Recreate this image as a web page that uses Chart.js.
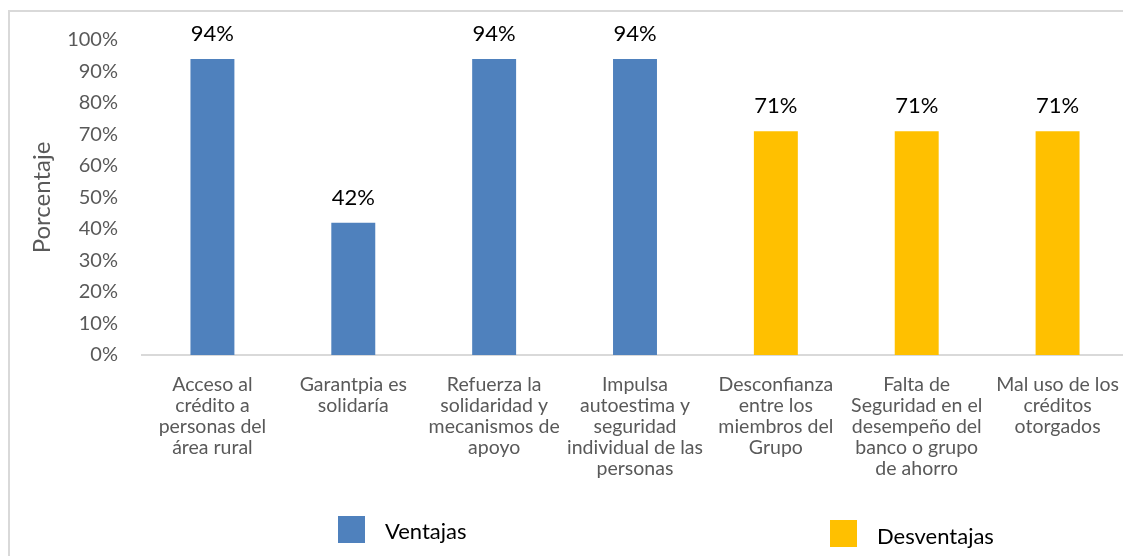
<!DOCTYPE html>
<html>
<head>
<meta charset="utf-8">
<script src="https://cdn.jsdelivr.net/npm/chart.js@4.4.0/dist/chart.umd.min.js"></script>
<style>
  html, body { margin: 0; padding: 0; background: #fff; overflow: hidden; }
  #wrap { width: 1140px; height: 556px; }
</style>
</head>
<body>
<div id="wrap"><canvas id="chart" width="1140" height="556"></canvas></div>
<script>
const categories = [
  ['Acceso al', 'crédito a', 'personas del', 'área rural'],
  ['Garantpia es', 'solidaría'],
  ['Refuerza la', 'solidaridad y', 'mecanismos de', 'apoyo'],
  ['Impulsa', 'autoestima y', 'seguridad', 'individual de las', 'personas'],
  ['Desconfianza', 'entre los', 'miembros del', 'Grupo'],
  ['Falta de', 'Seguridad en el', 'desempeño del', 'banco o grupo', 'de ahorro'],
  ['Mal uso de los', 'créditos', 'otorgados']
];
const ventajas = [94, 42, 94, 94, null, null, null];
const desventajas = [null, null, null, null, 71, 71, 71];
const yTicks = [0, 10, 20, 30, 40, 50, 60, 70, 80, 90, 100];

const FONT = 'Lato';

// marco gris alrededor del gráfico
const framePlugin = {
  id: 'frame',
  beforeDraw(chart) {
    const ctx = chart.ctx;
    ctx.save();
    ctx.strokeStyle = '#d9d9d9';
    ctx.lineWidth = 2;
    ctx.strokeRect(9, 11, chart.width + 20, chart.height + 20);
    ctx.restore();
  }
};

// etiquetas de valor encima de las barras
const valueLabels = {
  id: 'valueLabels',
  afterDatasetsDraw(chart) {
    const ctx = chart.ctx;
    ctx.save();
    ctx.font = '22px ' + FONT;
    ctx.fillStyle = '#000';
    ctx.textAlign = 'center';
    ctx.textBaseline = 'alphabetic';
    chart.data.datasets.forEach((ds, i) => {
      chart.getDatasetMeta(i).data.forEach((bar, j) => {
        if (ds.data[j] == null) return;
        ctx.fillText(ds.data[j] + '%', bar.x, bar.y - 18);
      });
    });
    ctx.restore();
  }
};

// leyenda manual (como en el original)
const legendSpots = [
  { box: [338, 516], text: [385, 532] },
  { box: [830, 520], text: [877, 537] }
];
const customLegend = {
  id: 'customLegend',
  afterDraw(chart) {
    const ctx = chart.ctx;
    ctx.save();
    ctx.font = '22px ' + FONT;
    ctx.textBaseline = 'middle';
    ctx.textAlign = 'left';
    chart.data.datasets.forEach((ds, i) => {
      const s = legendSpots[i];
      ctx.fillStyle = ds.backgroundColor;
      ctx.fillRect(s.box[0], s.box[1], 27, 27);
      ctx.fillStyle = '#000';
      ctx.fillText(ds.label, s.text[0], s.text[1]);
    });
    ctx.restore();
  }
};

new Chart(document.getElementById('chart'), {
  type: 'bar',
  data: {
    labels: categories,
    datasets: [
      { label: 'Ventajas', data: ventajas, backgroundColor: '#4f81bd', skipNull: true },
      { label: 'Desventajas', data: desventajas, backgroundColor: '#ffc000', skipNull: true }
    ]
  },
  options: {
    responsive: false,
    animation: false,
    events: [],
    categoryPercentage: 1,
    barPercentage: 0.312,
    layout: { padding: { top: 40, right: 12, left: 0, bottom: 0 } },
    plugins: {
      legend: { display: false },
      tooltip: { enabled: false }
    },
    scales: {
      x: {
        grid: { display: false },
        border: { display: true, color: '#d9d9d9', width: 2 },
        ticks: {
          autoSkip: false,
          maxRotation: 0,
          padding: 11,
          color: '#595959',
          font: { family: FONT, size: 19.5, lineHeight: '21px' }
        },
        afterFit(scale) { scale.height = 201; }
      },
      y: {
        min: 0,
        max: 100,
        afterBuildTicks(scale) { scale.ticks = yTicks.map(v => ({ value: v })); },
        grid: { display: false, drawTicks: false },
        border: { display: false },
        ticks: {
          padding: 24,
          color: '#595959',
          font: { family: FONT, size: 20 },
          callback: v => v + '%'
        },
        title: {
          display: true,
          text: 'Porcentaje',
          color: '#595959',
          font: { family: FONT, size: 24 },
          padding: { top: 28, bottom: 0 }
        },
        afterFit(scale) { scale.width = 142; }
      }
    }
  },
  plugins: [framePlugin, valueLabels, customLegend]
});
</script>
</body>
</html>
